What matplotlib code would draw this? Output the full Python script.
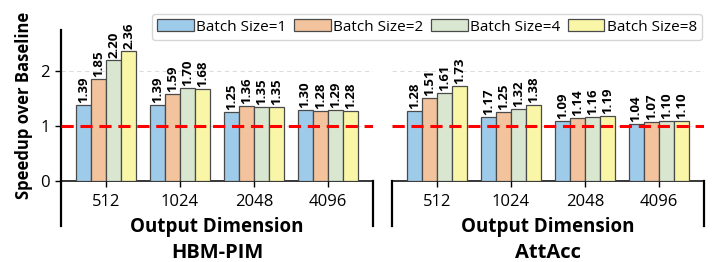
import numpy as np
import matplotlib
matplotlib.use("Agg")
import matplotlib.pyplot as plt
from matplotlib.lines import Line2D

plt.rcParams["font.family"] = ["Open Sans", "DejaVu Sans"]

# dados
dims = ["512", "1024", "2048", "4096"]
series = ["Batch Size=1", "Batch Size=2", "Batch Size=4", "Batch Size=8"]
hbm_pim = [
    [1.39, 1.39, 1.25, 1.30],
    [1.85, 1.59, 1.36, 1.28],
    [2.20, 1.70, 1.35, 1.29],
    [2.36, 1.68, 1.35, 1.28],
]
attacc = [
    [1.28, 1.17, 1.09, 1.04],
    [1.51, 1.25, 1.14, 1.07],
    [1.61, 1.32, 1.16, 1.10],
    [1.73, 1.38, 1.19, 1.10],
]
paineis = ["HBM-PIM", "AttAcc"]
cores = ["#9fcbea", "#f2c39c", "#d9e7d0", "#faf6a8"]

W, H = 718, 262
fig = plt.figure(figsize=(W / 100, H / 100), dpi=100)
ax1 = fig.add_axes([61 / W, 1 - 181 / H, 312 / W, 151 / H])
ax2 = fig.add_axes([392 / W, 1 - 181 / H, 312 / W, 151 / H], sharey=ax1)

x = np.arange(len(dims))
bw = 0.205
barras = []
for ax, dados, nome in [(ax1, hbm_pim, paineis[0]), (ax2, attacc, paineis[1])]:
    for i, vals in enumerate(dados):
        pos = x + (i - 1.5) * bw
        b = ax.bar(pos, vals, bw, color=cores[i], edgecolor="#4a4a4a",
                   linewidth=0.9, zorder=3, label=series[i])
        barras.append(b)
        for p, v in zip(pos, vals):
            ax.text(p, v + 0.035, f"{v:.2f}", rotation=90, ha="center",
                    va="bottom", fontsize=9.5, fontweight="bold", zorder=4)
    ax.axhline(1, color="#ff0000", lw=2.2, ls=(0, (4, 2.2)), zorder=5)
    ax.set_xlim(-0.61, 3.61)
    ax.set_ylim(0, 2.75)
    ax.set_xticks(x)
    ax.set_xticklabels(dims, fontsize=12)
    ax.yaxis.grid(True, ls=(0, (4, 3)), color="#dddddd", lw=0.8, zorder=0)
    ax.set_axisbelow(True)
    ax.tick_params(axis="x", length=4, width=1, pad=5)
    for s in ["top", "right"]:
        ax.spines[s].set_visible(False)
    ax.spines["bottom"].set_linewidth(1.1)
    # colchete abaixo do eixo
    for xx in (0, 1):
        ax.add_line(Line2D([xx, xx], [-0.3, 0], transform=ax.transAxes,
                           color="black", lw=1.6, clip_on=False))
    ax.text(0.5, -0.305, "Output Dimension", transform=ax.transAxes,
            ha="center", va="center", fontsize=13.5, fontweight="bold")
    ax.text(0.5, -0.48, nome, transform=ax.transAxes,
            ha="center", va="center", fontsize=14.5, fontweight="bold")

ax1.spines["left"].set_linewidth(1.6)
ax1.set_yticks([0, 1, 2])
ax1.tick_params(axis="y", labelsize=12, length=4, width=1, pad=4)
ax1.set_ylabel("Speedup over Baseline", fontsize=12, fontweight="bold", labelpad=5)
ax2.spines["left"].set_visible(False)
ax2.tick_params(axis="y", left=False, labelleft=False)

fig.legend(handles=barras[:4], labels=series, loc="center",
           bbox_to_anchor=(427 / W, 1 - 27 / H), ncol=4, fontsize=11,
           handlelength=2.4, handleheight=0.8, handletextpad=0.15,
           columnspacing=0.5, borderpad=0.35, frameon=True,
           edgecolor="#cccccc", fancybox=True)

fig.savefig("out.png", dpi=100)
